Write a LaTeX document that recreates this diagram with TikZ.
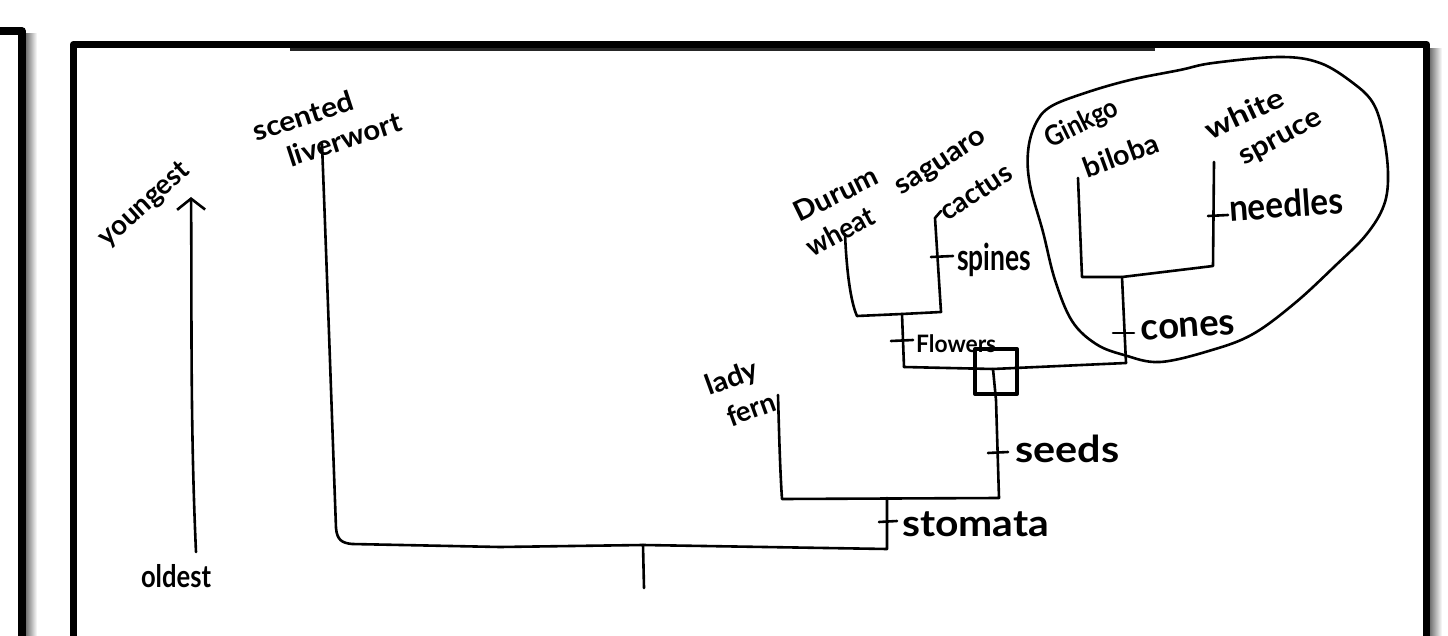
\documentclass[tikz,border=0pt]{standalone}
\usepackage{fontspec}
\setmainfont{Lato}
\usepackage{graphicx}
\usetikzlibrary{arrows.meta}
\newcommand{\hw}[2]{\resizebox{#1}{\height}{#2}}
\begin{document}
\begin{tikzpicture}[x=1pt,y=-1pt,line cap=round,line join=round,
  br/.style={line width=2.6pt},
  tk/.style={line width=2.6pt},
  lab/.style={inner sep=0pt,font=\fontsize{28}{30}\selectfont\bfseries},
  trait/.style={inner sep=0pt,anchor=west,font=\fontsize{37}{39}\selectfont\bfseries},
  frame/.style={line width=7.5pt},
  shadow/.style={left color=black!55,right color=white,draw=none}]
\useasboundingbox (0,0) rectangle (1448,636);
\clip (0,0) rectangle (1448,636);
% frames
\shade[shadow] (26,34) rectangle (37,636);
\shade[shadow] (1430,49) rectangle (1442,636);
\draw[frame] (-10,31) -- (22,31) -- (22,650);
\draw[frame] (73.5,650) -- (73.5,44.5) -- (1426.5,44.5) -- (1426.5,650);
\draw[line width=2.5pt,black!85,line cap=butt] (290,49.5) -- (1155,49.5);
% axis
\coordinate (ab) at (196,552);
\coordinate (at) at (191,197);
\draw[br,-{Straight Barb[length=11pt,width=28pt,line width=2.6pt]}] (ab) .. controls (190,420) and (192,300) .. (at);
\node[lab,rotate=42] (young) at (145,205) {\hw{112pt}{youngest}};
\node[lab,font=\fontsize{31}{33}\selectfont\bfseries] (old) at (176,576) {\hw{70pt}{oldest}};
% taxa labels
\node[lab,rotate=18] (scent) at (303,116) {\hw{104pt}{scented}};
\node[lab,rotate=18] (liver) at (344,139) {\hw{118pt}{liverwort}};
\node[lab,rotate=20] (lady) at (732,379) {\hw{54pt}{lady}};
\node[lab,rotate=20] (fern) at (751,409) {\hw{50pt}{fern}};
\node[lab,rotate=26] (durum) at (836,194) {\hw{90pt}{Durum}};
\node[lab,rotate=28] (wheat) at (840,231) {\hw{74pt}{wheat}};
\node[lab,rotate=33] (sag) at (942,164) {\hw{102pt}{saguaro}};
\node[lab,rotate=33] (cact) at (976,192) {\hw{80pt}{cactus}};
\node[lab,rotate=26] (gink) at (1082,124) {\hw{78pt}{Ginkgo}};
\node[lab,rotate=20] (bilo) at (1121,155) {\hw{78pt}{biloba}};
\node[lab,rotate=25] (white) at (1244,113) {\hw{84pt}{white}};
\node[lab,rotate=28] (spruce) at (1282,140) {\hw{90pt}{spruce}};
% junctions
\coordinate (rootb) at (644,588);
\coordinate (J0) at (643,545);
\coordinate (Lt) at (322,144);
\coordinate (Lb) at (336,528);
\coordinate (J1b) at (887,549);
\coordinate (J1) at (887,498);
\coordinate (Ft) at (778,395);
\coordinate (Fb) at (782,499);
\coordinate (Sb) at (999,498);
\coordinate (J2) at (993,369);
\coordinate (Ab) at (904,367);
\coordinate (J3) at (902,314);
\coordinate (Dt) at (845,234);
\coordinate (Db) at (857,316);
\coordinate (Ct) at (935,218);
\coordinate (Cb) at (941,312);
\coordinate (Gb) at (1126,363);
\coordinate (J4) at (1122,277);
\coordinate (Kt) at (1078,178);
\coordinate (Kb) at (1082,277);
\coordinate (Wt) at (1214,162);
\coordinate (Wb) at (1213,266);
% branches
\draw[br] (J0) -- (rootb);
\draw[br] (Lt) .. controls (328,300) and (332,420) .. (Lb) .. controls (337,540) and (342,543) .. (352,544) -- (500,547) -- (J0) -- (J1b) -- (J1);
\draw[br] (Ft) .. controls (779,430) and (780,470) .. (Fb) -- (Sb) -- (996,400) -- (J2);
\draw[br] (Ab) -- (J2) -- (Gb);
\draw[br] (Ab) -- (J3);
\draw[br] (Dt) .. controls (847,280) and (852,305) .. (Db) -- (J3) -- (Cb) -- (Ct) -- (941,211);
\draw[br] (Gb) -- (J4);
\draw[br] (Kt) -- (Kb) -- (J4) -- (Wb) -- (Wt);
% box on seed-plant node
\draw[line width=4pt] (975,349) rectangle (1017,394);
% ticks
\draw[tk] (931,257) -- (953,256);
\draw[tk] (891,341) -- (913,340);
\draw[tk] (1113,333) -- (1134,333);
\draw[tk] (1208,216) -- (1228,215);
\draw[tk] (988,453) -- (1008,452);
\draw[tk] (879,522) -- (897,521);
% trait labels
\node[trait] (spines) at (957,260) {\hw{74pt}{spines}};
\node[trait,font=\fontsize{24}{26}\selectfont\bfseries] (flowers) at (916,344) {\hw{80pt}{Flowers}};
\node[trait,rotate=4] (cones) at (1141,331) {\hw{94pt}{cones}};
\node[trait,rotate=4] (needles) at (1229,208) {\hw{114pt}{needles}};
\node[trait] (seeds) at (1015,449) {\hw{104pt}{seeds}};
\node[trait] (stomata) at (902,524) {\hw{147pt}{stomata}};
% enclosing loop
\draw[br] plot[smooth cycle,tension=0.6] coordinates {(1085,93) (1130,80) (1180,70) (1213,63) (1280,57) (1320,63) (1353,83) (1373,103) (1383,133) (1388,173) (1384,205) (1366,235) (1335,266) (1295,303) (1253,334) (1212,350) (1160,362) (1124,355) (1096,344) (1072,321) (1055,280) (1043,232) (1030,185) (1028,152) (1035,125) (1050,107)};
\end{tikzpicture}
\end{document}
